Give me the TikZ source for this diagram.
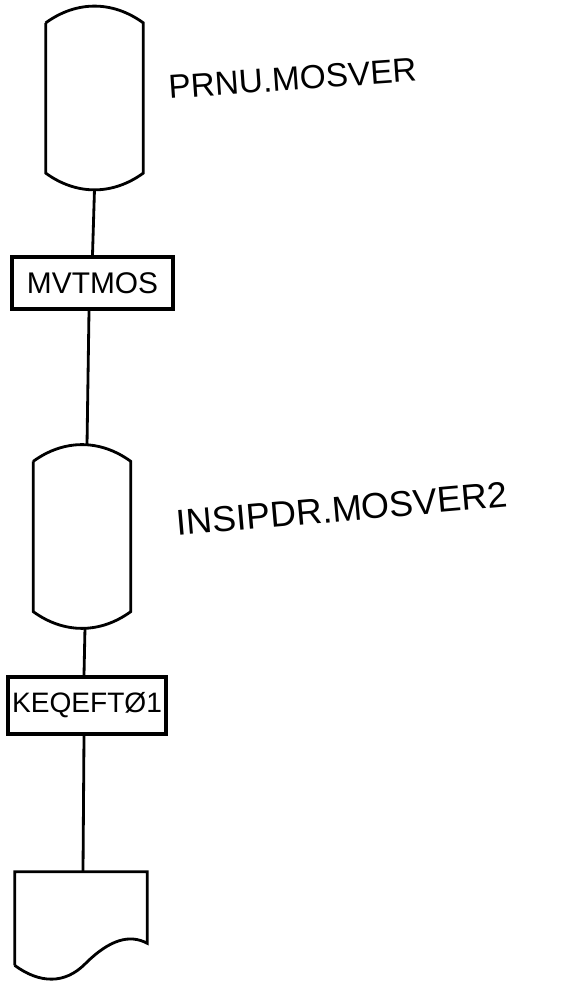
\documentclass[tikz,border=0pt]{standalone}
\usepackage{fontspec}
\setmainfont{Liberation Sans}
\usepackage{tikz}
\usetikzlibrary{positioning}

\begin{document}
\begin{tikzpicture}[x=0.02cm, y=0.02cm,
    drum/.style={minimum width=1.94cm, minimum height=3.63cm, inner sep=0pt},
    progbox/.style={draw, line width=2.2pt, inner sep=0pt, font=\fontsize{16}{18}\selectfont},
    dsname/.style={font=\fontsize{19}{21}\selectfont, inner sep=0pt},
    flow/.style={line width=1.6pt}]
    \useasboundingbox (0,0) rectangle (582,984);

    % Data sets and programs
    \node[drum] (db1) at (94.5,886) {};
    \node[progbox, minimum width=3.22cm, minimum height=1.04cm, font=\fontsize{17}{19}\selectfont] (mvtmos) at (92.5,701) {MVTMOS};
    \node[drum] (db2) at (82,447.5) {};
    \node[progbox, minimum width=3.16cm, minimum height=1.14cm] (keqeft) at (87,278.5) {KEQEFTØ1};
    \node[minimum width=2.64cm, minimum height=1.86cm, inner sep=0pt] (report) at (81,65.5) {};

    % Drum outlines
    \foreach \db in {db1,db2} {
        \draw[flow] ([yshift=-0.32cm]\db.north west) -- ([yshift=0.32cm]\db.south west)
            to[bend right=36] ([yshift=0.32cm]\db.south east)
            -- ([yshift=-0.32cm]\db.north east)
            to[bend right=36] ([yshift=-0.32cm]\db.north west);
    }

    % Printed output
    \draw[flow] (report.south west) -- (report.north west) -- (report.north east)
        -- ([yshift=0.44cm]report.south east)
        .. controls (130,50) and (110,45) .. (85,20)
        .. controls (65,0) and (40,0) .. (report.south west);

    % Data set names
    \node[dsname, rotate=4] (lbl1) at (292.5,905.5) {PRNU.MOSVER};
    \node[dsname, rotate=5, font=\fontsize{20.5}{22}\selectfont] (lbl2) at (342,475) {INSIPDR.MOSVER2};

    % Flow lines
    \draw[flow] (db1.south) -- (mvtmos.north);
    \draw[flow] ([xshift=-0.07cm]mvtmos.south) -- ([xshift=0.1cm]db2.north);
    \draw[flow] ([xshift=0.06cm]db2.south) -- ([xshift=-0.06cm]keqeft.north);
    \draw[flow] ([xshift=-0.06cm]keqeft.south) -- ([xshift=0.04cm]report.north);
\end{tikzpicture}
\end{document}
